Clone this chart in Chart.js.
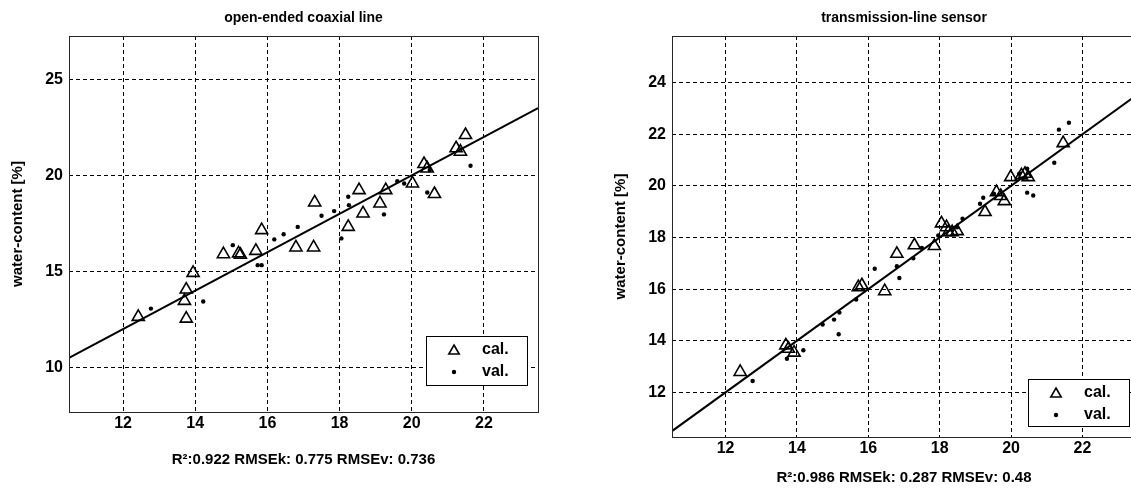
<!DOCTYPE html>
<html><head><meta charset="utf-8">
<script src="https://cdn.jsdelivr.net/npm/chart.js@4.4.0/dist/chart.umd.min.js"></script>
<style>
html,body{margin:0;padding:0;background:#fff;overflow:hidden;width:1131px;height:490px;position:relative;}
canvas{position:absolute;top:0;}
</style></head><body>
<canvas id="c1" width="560" height="490" style="left:0px"></canvas>
<canvas id="c2" width="560" height="490" style="left:603px"></canvas>
<script>
// ---------- data ----------
const xTicks = [12, 14, 16, 18, 20, 22];
const coaxYTicks = [10, 15, 20, 25];
const tlsYTicks = [12, 14, 16, 18, 20, 22, 24];
const oneToOne = [10.5, 23.5];

// open-ended coaxial line
const coaxCalX = [12.42,13.70,13.75,13.75,13.94,14.78,15.20,15.25,15.68,15.84,16.79,17.28,17.31,18.24,18.54,18.65,19.12,19.28,20.02,20.34,20.43,20.63,21.23,21.35,21.49];
const coaxCalY = [12.64,13.47,12.55,14.06,14.93,15.90,15.94,15.87,16.07,17.15,16.25,16.25,18.59,17.32,19.23,18.02,18.54,19.23,19.58,20.59,20.36,19.03,21.41,21.23,22.10];
const coaxValX = [12.77,14.22,15.04,15.73,15.84,16.19,16.45,16.84,17.50,17.85,18.05,18.24,18.26,19.23,19.60,19.79,20.43,20.50,21.63];
const coaxValY = [13.07,13.44,16.37,15.33,15.33,16.67,16.94,17.32,17.90,18.14,16.72,18.89,18.45,17.97,19.70,19.58,19.11,20.28,20.50];

// transmission-line sensor
const tlsCalX = [12.41,13.69,13.76,13.92,15.72,15.82,16.46,16.80,17.29,17.85,18.05,18.19,18.24,18.35,18.49,19.27,19.59,19.71,19.81,19.99,20.29,20.39,20.48,21.46];
const tlsCalY = [12.79,13.82,13.69,13.54,16.08,16.15,15.92,17.37,17.70,17.67,18.55,18.40,18.21,18.21,18.25,18.99,19.76,19.61,19.41,20.34,20.41,20.47,20.34,21.66];
const tlsValX = [12.76,13.72,14.18,14.72,15.04,15.17,15.19,15.66,16.18,16.80,16.87,17.26,17.50,17.96,18.49,18.64,19.13,19.22,19.52,20.23,20.45,20.45,20.62,21.21,21.34,21.62];
const tlsValY = [12.44,13.30,13.63,14.63,14.82,14.25,15.09,15.60,16.79,16.89,16.43,17.20,17.60,18.08,18.40,18.73,19.31,19.54,19.70,20.47,20.67,19.74,19.63,20.90,22.18,22.45];

// ---------- rendering ----------
const FAMILY = "'Liberation Sans', Arial, Helvetica, sans-serif";
Chart.defaults.font.family = FAMILY;
Chart.defaults.color = '#000';

const pts = (xs, ys) => xs.map((x, i) => ({x: x, y: ys[i]}));

function drawTriangle(ctx, x, y, r) {
  ctx.beginPath();
  for (let k = 0; k < 3; k++) {
    const a = -Math.PI / 2 + k * 2 * Math.PI / 3;
    const px = x + Math.cos(a) * r, py = y + Math.sin(a) * r;
    if (k === 0) ctx.moveTo(px, py); else ctx.lineTo(px, py);
  }
  ctx.closePath();
  ctx.stroke();
}

const framePlugin = {
  id: 'frame',
  afterDraw(chart, args, o) {
    const {ctx, chartArea: a} = chart;
    ctx.save();
    ctx.strokeStyle = '#262626';
    ctx.lineWidth = 1;
    ctx.setLineDash([]);
    ctx.strokeRect(Math.round(a.left) + 0.5, Math.round(a.top) + 0.5,
                   Math.round(a.right - a.left), Math.round(a.bottom - a.top));
    ctx.fillStyle = '#000';
    ctx.font = 'bold 14px ' + FAMILY;
    ctx.textAlign = 'center';
    ctx.textBaseline = 'middle';
    ctx.fillText(o.title, (a.left + a.right) / 2, o.titleY);
    const b = o.box;
    ctx.fillStyle = '#fff';
    ctx.fillRect(b.x, b.y, b.w, b.h);
    ctx.strokeStyle = '#000';
    ctx.strokeRect(b.x + 0.5, b.y + 0.5, b.w, b.h);
    ctx.lineWidth = 1.6;
    drawTriangle(ctx, b.x + 28, b.y + 15, 6);
    ctx.fillStyle = '#000';
    ctx.beginPath();
    ctx.arc(b.x + 28, b.y + 36, 2.2, 0, Math.PI * 2);
    ctx.fill();
    ctx.font = 'bold 16px ' + FAMILY;
    ctx.textAlign = 'left';
    ctx.fillText('cal.', b.x + 56, b.y + 14);
    ctx.fillText('val.', b.x + 56, b.y + 36);
    ctx.restore();
  }
};

function makeChart(id, o) {
  const tickFont = {size: 16, weight: 'bold', family: FAMILY};
  const statFont = {size: 15, weight: 'bold', family: FAMILY};
  new Chart(document.getElementById(id), {
    type: 'scatter',
    data: {
      datasets: [
        {type: 'line', data: pts(oneToOne, oneToOne), borderColor: '#000', borderWidth: 2,
         pointRadius: 0, fill: false, order: 3},
        {label: 'cal.', data: pts(o.calX, o.calY), pointStyle: 'triangle', pointRadius: 7,
         borderColor: '#000', backgroundColor: 'rgba(0,0,0,0)', borderWidth: 1.6, order: 2},
        {label: 'val.', data: pts(o.valX, o.valY), pointStyle: 'circle', pointRadius: 2.2,
         borderWidth: 0, backgroundColor: '#000', order: 1}
      ]
    },
    options: {
      responsive: false,
      animation: false,
      events: [],
      layout: {padding: {left: 0, right: o.padRight, top: 36, bottom: 0}},
      plugins: {
        legend: {display: false},
        tooltip: {enabled: false},
        frame: {title: o.title, titleY: 18, box: o.box}
      },
      scales: {
        x: {
          type: 'linear', min: 10.5, max: 23.5,
          afterBuildTicks: s => { s.ticks = xTicks.map(v => ({value: v})); },
          afterFit: s => { s.height = o.xHeight; },
          grid: {color: '#000', lineWidth: 1, drawTicks: false},
          border: {display: false, dash: [4, 3]},
          ticks: {font: tickFont, color: '#000', padding: o.xTickPad, maxRotation: 0},
          title: {display: true, text: o.stats, font: statFont, color: '#000',
                  padding: {top: 0, bottom: o.statsPad}}
        },
        y: {
          type: 'linear', min: o.yMin, max: o.yMax,
          afterBuildTicks: s => { s.ticks = o.yTicks.map(v => ({value: v})); },
          afterFit: s => { s.width = 69; },
          grid: {color: '#000', lineWidth: 1, drawTicks: false},
          border: {display: false, dash: [4, 3]},
          ticks: {font: tickFont, color: '#000', padding: 6},
          title: {display: true, text: 'water-content [%]', font: {size: 15, weight: 'bold', family: FAMILY},
                  color: '#000', padding: {top: 9, bottom: 0}}
        }
      }
    },
    plugins: [framePlugin]
  });
}

makeChart('c1', {
  title: 'open-ended coaxial line',
  stats: 'R\u00B2:0.922 RMSEk: 0.775 RMSEv: 0.736',
  calX: coaxCalX, calY: coaxCalY, valX: coaxValX, valY: coaxValY,
  yMin: 7.69, yMax: 27.25, yTicks: coaxYTicks,
  padRight: 22, xHeight: 78, xTickPad: 2, statsPad: 21,
  box: {x: 426, y: 336, w: 101, h: 49}
});
makeChart('c2', {
  title: 'transmission-line sensor',
  stats: 'R\u00B2:0.986 RMSEk: 0.287 RMSEv: 0.48',
  calX: tlsCalX, calY: tlsCalY, valX: tlsValX, valY: tlsValY,
  yMin: 10.27, yMax: 25.81, yTicks: tlsYTicks,
  padRight: 27, xHeight: 53, xTickPad: 2, statsPad: 3,
  box: {x: 425, y: 379, w: 101, h: 47}
});
</script>
</body></html>
